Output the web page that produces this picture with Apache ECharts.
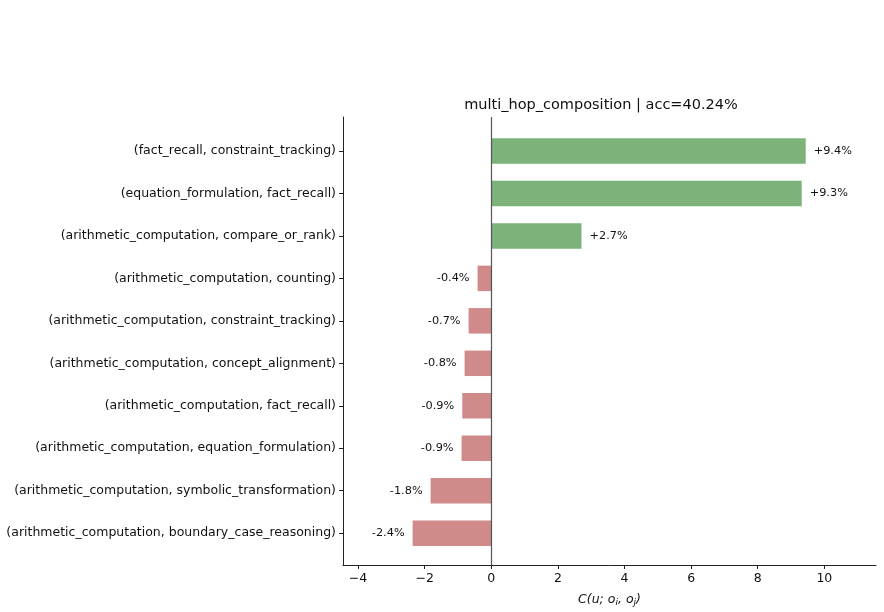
<!DOCTYPE html>
<html>
<head>
<meta charset="utf-8">
<script src="https://cdn.jsdelivr.net/npm/echarts@6/dist/echarts.min.js"></script>
<style>
  html, body { margin: 0; padding: 0; background: #fff; }
  #chart { width: 884px; height: 612px; }
</style>
</head>
<body>
<div id="chart"></div>
<script>
// pairs, top to bottom
const pairs = [
  "(fact_recall, constraint_tracking)",
  "(equation_formulation, fact_recall)",
  "(arithmetic_computation, compare_or_rank)",
  "(arithmetic_computation, counting)",
  "(arithmetic_computation, constraint_tracking)",
  "(arithmetic_computation, concept_alignment)",
  "(arithmetic_computation, fact_recall)",
  "(arithmetic_computation, equation_formulation)",
  "(arithmetic_computation, symbolic_transformation)",
  "(arithmetic_computation, boundary_case_reasoning)"
];
const contrib = [9.44, 9.32, 2.71, -0.41, -0.68, -0.80, -0.87, -0.89, -1.82, -2.36];
const xTicks = [-4, -2, 0, 2, 4, 6, 8, 10];
const titleText = "multi_hop_composition | acc=40.24%";

const FONT = "DejaVu Sans";
const POS_COLOR = "#7db27b";
const NEG_COLOR = "#d08a8a";

function fmtTick(v) {
  return v < 0 ? "\u2212" + (-v) : String(v);
}

function fmtPct(v) {
  return (v >= 0 ? "+" : "") + v.toFixed(1) + "%";
}

const chart = echarts.init(document.getElementById("chart"), null, { renderer: "canvas" });

chart.setOption({
  animation: false,
  title: {
    text: titleText,
    left: 596,
    top: 93,
    textAlign: "center",
    textStyle: { fontFamily: FONT, fontSize: 14.5, fontWeight: "normal", color: "#111" }
  },
  grid: { left: 343, right: 8, top: 117, bottom: 47 },
  xAxis: {
    type: "value",
    min: -4.45,
    max: 11.55,
    splitLine: { show: false },
    axisLine: { show: true, onZero: false, lineStyle: { color: "#222", width: 1 } },
    axisTick: { show: true, customValues: xTicks, length: 4, lineStyle: { color: "#222" } },
    axisLabel: {
      customValues: xTicks,
      formatter: fmtTick,
      fontFamily: FONT,
      fontSize: 12.5,
      color: "#111",
      margin: 7
    },
    name: "{a|C(u; o}{s|i}{a|, o}{s|j}{a|)}",
    nameLocation: "middle",
    nameGap: 28,
    nameTextStyle: {
      rich: {
        a: { fontFamily: FONT, fontSize: 12.5, fontStyle: "italic", color: "#111" },
        s: { fontFamily: FONT, fontSize: 9, fontStyle: "italic", color: "#111", padding: [5, 0, 0, 0] }
      }
    }
  },
  yAxis: {
    type: "value",
    inverse: true,
    min: -0.80,
    max: 9.75,
    splitLine: { show: false },
    axisLine: { show: true, onZero: false, lineStyle: { color: "#222", width: 1 } },
    axisTick: { show: true, customValues: pairs.map((_, i) => i), length: 4, lineStyle: { color: "#222" } },
    axisLabel: {
      customValues: pairs.map((_, i) => i),
      formatter: (v) => pairs[Math.round(v)] || "",
      fontFamily: FONT,
      fontSize: 12.5,
      color: "#111",
      margin: 7
    }
  },
  series: [
    {
      type: "custom",
      data: contrib.map((v, i) => [v, i]),
      renderItem: function (params, api) {
        const v = api.value(0);
        const idx = api.value(1);
        const start = api.coord([0, idx]);
        const end = api.coord([v, idx]);
        const h = api.size([0, 0.6])[1];
        const x0 = Math.min(start[0], end[0]);
        const w = Math.abs(end[0] - start[0]);
        const pos = v >= 0;
        return {
          type: "group",
          children: [
            {
              type: "rect",
              shape: { x: x0, y: start[1] - h / 2, width: w, height: h },
              style: { fill: pos ? POS_COLOR : NEG_COLOR }
            },
            {
              type: "text",
              x: pos ? end[0] + 8 : end[0] - 8,
              y: start[1],
              style: {
                text: fmtPct(v),
                fontFamily: FONT,
                fontSize: 11.3,
                fill: "#111",
                align: pos ? "left" : "right",
                verticalAlign: "middle"
              }
            }
          ]
        };
      },
      markLine: {
        silent: true,
        symbol: "none",
        label: { show: false },
        lineStyle: { color: "#555", width: 1.2, type: "solid" },
        data: [{ xAxis: 0 }]
      },
      z: 2
    }
  ]
});
</script>
</body>
</html>
